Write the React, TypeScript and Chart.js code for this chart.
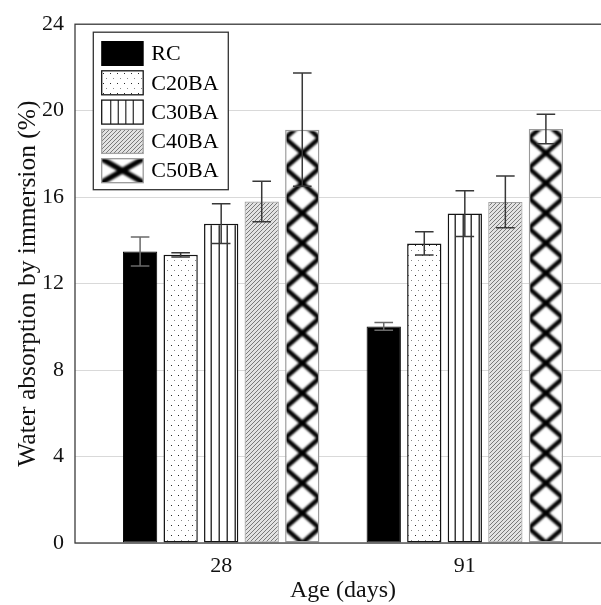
import React, { useEffect, useRef } from "react";
import { Chart, registerables } from "chart.js";

Chart.register(...registerables);

// ---------- data ----------
const ageLabels = ["28", "91"];
const agePositions = [0, 1];
const seriesNames = ["RC", "C20BA", "C30BA", "C40BA", "C50BA"];

const rcValues = [13.48, 10.02];
const c20Values = [13.33, 13.86];
const c30Values = [14.77, 15.24];
const c40Values = [15.8, 15.78];
const c50Values = [19.12, 19.15];

const rcErrors = [0.67, 0.18];
const c20Errors = [0.1, 0.54];
const c30Errors = [0.92, 1.06];
const c40Errors = [0.94, 1.2];
const c50Errors = [2.62, 0.68];

const yMin = 0;
const yMax = 24;
const yStep = 4;

const seriesValues = [rcValues, c20Values, c30Values, c40Values, c50Values];
const seriesErrors = [rcErrors, c20Errors, c30Errors, c40Errors, c50Errors];

// ---------- style ----------
const FONT = "'Liberation Serif', 'Times New Roman', serif";
const fills = ["solid", "dots", "vlines", "hatch", "cross"];
const borderColors = ["#000000", "#141414", "#141414", "#a3a3a3", "#9a9a9a"];
const borderWidths = [1, 1.5, 1.5, 1.2, 1.5];
const CAT_PCT = 0.832;
const BAR_PCT = 0.846;
const CROSS_H = 30;

function makeTile(w: number, h: number, draw: (t: CanvasRenderingContext2D) => void) {
  const c = document.createElement("canvas");
  c.width = w;
  c.height = h;
  const t = c.getContext("2d") as CanvasRenderingContext2D;
  draw(t);
  return c;
}

const tiles: Record<string, HTMLCanvasElement> = {};
function getTile(kind: string): HTMLCanvasElement {
  if (tiles[kind]) return tiles[kind];
  let c: HTMLCanvasElement;
  if (kind === "dots") {
    c = makeTile(7, 10, (t) => {
      t.fillStyle = "#ffffff";
      t.fillRect(0, 0, 7, 10);
      t.fillStyle = "#2a2a2a";
      t.fillRect(1, 2, 1, 1);
      t.fillStyle = "#8a8a8a";
      t.fillRect(4, 7, 1, 1);
    });
  } else if (kind === "vlines") {
    c = makeTile(8, 4, (t) => {
      t.fillStyle = "#ffffff";
      t.fillRect(0, 0, 8, 4);
      t.fillStyle = "#9a9a9a";
      t.fillRect(6, 0, 1, 4);
      t.fillStyle = "#3a3a3a";
      t.fillRect(7, 0, 1, 4);
    });
  } else if (kind === "hatch") {
    c = makeTile(4, 4, (t) => {
      t.fillStyle = "#e3e3e3";
      t.fillRect(0, 0, 4, 4);
      t.fillStyle = "#7a7a7a";
      t.fillRect(3, 0, 1, 1);
      t.fillRect(2, 1, 1, 1);
      t.fillRect(1, 2, 1, 1);
      t.fillRect(0, 3, 1, 1);
    });
  } else {
    const TW = 68;
    const TH = 60;
    c = makeTile(TW, TH, (t) => {
      t.fillStyle = "#ffffff";
      t.fillRect(0, 0, TW, TH);
      t.strokeStyle = "#000000";
      t.lineWidth = 9;
      (t as any).filter = "blur(2px)";
      t.beginPath();
      for (let k = -2; k <= 2; k++) {
        t.moveTo(-TW, k * TH - TH);
        t.lineTo(2 * TW, k * TH + 2 * TH);
        const cc = TH + k * TH;
        t.moveTo(-TW, cc + TH);
        t.lineTo(2 * TW, cc - 2 * TH);
      }
      t.stroke();
    });
  }
  tiles[kind] = c;
  return c;
}

function patternFor(ctx: CanvasRenderingContext2D, kind: string, left: number, top: number, sx = 1, sy = 1) {
  const p = ctx.createPattern(getTile(kind), "repeat") as CanvasPattern;
  p.setTransform(new DOMMatrix([sx, 0, 0, sy, left, top]));
  return p;
}

const patternCache: Record<string, any> = {};
function barBackground(c: any) {
  const ds = c.datasetIndex;
  const kind = fills[ds];
  if (kind === "solid") return "#000000";
  const chart = c.chart;
  const xs = chart.scales ? chart.scales.x : null;
  const area = chart.chartArea;
  if (!xs || !area) return "#ffffff";
  const idx = typeof c.dataIndex === "number" ? c.dataIndex : 0;
  const p0 = xs.getPixelForValue(agePositions[0]);
  const p1 = xs.getPixelForValue(agePositions[1]);
  const gap = Math.min(Math.abs(p1 - p0), xs.width);
  const size = gap * CAT_PCT;
  const chunk = size / seriesNames.length;
  const center = xs.getPixelForValue(agePositions[idx]) - size / 2 + chunk * (ds + 0.5);
  const w = chunk * BAR_PCT;
  const left = center - w / 2;
  const key = `${ds}|${idx}|${left.toFixed(2)}|${w.toFixed(2)}|${area.bottom}`;
  if (patternCache[key]) return patternCache[key];
  const ctx = chart.ctx as CanvasRenderingContext2D;
  let p: any;
  if (kind === "cross") p = patternFor(ctx, kind, left, area.bottom - CROSS_H / 2, w / 68, CROSS_H / 60);
  else p = patternFor(ctx, kind, Math.round(left), area.bottom);
  patternCache[key] = p;
  return p;
}

const framePlugin = {
  id: "frameAndErrors",
  afterDatasetsDraw(chart: any) {
    const ctx = chart.ctx as CanvasRenderingContext2D;
    const a = chart.chartArea;
    const ys = chart.scales.y;
    // error bars
    chart.data.datasets.forEach((_d: any, di: number) => {
      const meta = chart.getDatasetMeta(di);
      meta.data.forEach((el: any, i: number) => {
        const v = seriesValues[di][i];
        const e = seriesErrors[di][i];
        const yt = ys.getPixelForValue(v + e);
        const yb = ys.getPixelForValue(v - e);
        ctx.save();
        ctx.strokeStyle = di === 0 ? "#6a6a6a" : "#383838";
        ctx.lineWidth = 1.5;
        ctx.beginPath();
        ctx.moveTo(el.x, yt);
        ctx.lineTo(el.x, yb);
        ctx.moveTo(el.x - 9.3, yt);
        ctx.lineTo(el.x + 9.3, yt);
        ctx.moveTo(el.x - 9.3, yb);
        ctx.lineTo(el.x + 9.3, yb);
        ctx.stroke();
        ctx.restore();
      });
    });
    // frame
    ctx.save();
    ctx.strokeStyle = "#3c3c3c";
    ctx.lineWidth = 1.3;
    ctx.strokeRect(a.left, a.top, a.right - a.left, a.bottom - a.top);
    ctx.restore();
  },
  afterDraw(chart: any) {
    const ctx = chart.ctx as CanvasRenderingContext2D;
    const a = chart.chartArea;
    const bx = a.left + 18.3;
    const by = a.top + 8;
    const bw = 135;
    const bh = 157.5;
    ctx.save();
    ctx.fillStyle = "#ffffff";
    ctx.fillRect(bx, by, bw, bh);
    ctx.strokeStyle = "#333333";
    ctx.lineWidth = 1.3;
    ctx.strokeRect(bx, by, bw, bh);
    const sw = 41.5;
    const sh = 24;
    const sx = bx + 8.4;
    seriesNames.forEach((name, i) => {
      const sy = by + 9.3 + i * 29.3;
      const kind = fills[i];
      ctx.save();
      ctx.beginPath();
      ctx.rect(sx, sy, sw, sh);
      ctx.clip();
      if (kind === "solid") {
        ctx.fillStyle = "#000000";
        ctx.fillRect(sx, sy, sw, sh);
      } else {
        ctx.fillStyle = "#ffffff";
        ctx.fillRect(sx, sy, sw, sh);
        if (kind === "dots" || kind === "hatch") {
          ctx.fillStyle = patternFor(ctx, kind, Math.round(sx), Math.round(sy));
          ctx.fillRect(sx, sy, sw, sh);
        } else if (kind === "vlines") {
          ctx.strokeStyle = "#3a3a3a";
          ctx.lineWidth = 1.3;
          [9, 16.6, 24.1, 31.6].forEach((o) => {
            ctx.beginPath();
            ctx.moveTo(sx + o, sy);
            ctx.lineTo(sx + o, sy + sh);
            ctx.stroke();
          });
        } else if (kind === "cross") {
          ctx.strokeStyle = "#000000";
          ctx.lineWidth = 5.5;
          (ctx as any).filter = "blur(1.2px)";
          ctx.beginPath();
          ctx.moveTo(sx - 2, sy - 1);
          ctx.lineTo(sx + sw + 2, sy + sh + 1);
          ctx.moveTo(sx + sw + 2, sy - 1);
          ctx.lineTo(sx - 2, sy + sh + 1);
          ctx.stroke();
          (ctx as any).filter = "none";
        }
      }
      ctx.restore();
      ctx.strokeStyle = borderColors[i];
      ctx.lineWidth = i === 0 ? 1 : 1.3;
      ctx.strokeRect(sx, sy, sw, sh);
      ctx.fillStyle = "#000000";
      ctx.font = `22px ${FONT}`;
      ctx.textAlign = "left";
      ctx.textBaseline = "middle";
      ctx.fillText(name, bx + 58, sy + sh / 2 + 1);
    });
    ctx.restore();
  },
};

export default function App() {
  const ref = useRef<HTMLCanvasElement | null>(null);

  useEffect(() => {
    if (!ref.current) return;
    const datasets = seriesNames.map((name, i) => ({
      label: name,
      data: agePositions.map((x, j) => ({ x, y: seriesValues[i][j] })),
      backgroundColor: barBackground,
      borderColor: borderColors[i],
      borderWidth: borderWidths[i],
      borderSkipped: false,
      categoryPercentage: CAT_PCT,
      barPercentage: BAR_PCT,
    }));
    const chart = new Chart(ref.current, {
      type: "bar",
      data: { datasets } as any,
      options: {
        responsive: false,
        animation: false,
        events: [],
        layout: { padding: { top: 16, right: 1, left: 0, bottom: 0 } },
        plugins: { legend: { display: false }, tooltip: { enabled: false } },
        scales: {
          x: {
            type: "linear",
            min: -0.6,
            max: 1.6,
            offset: false,
            grid: { display: false, drawTicks: false },
            border: { display: false },
            afterBuildTicks: (s: any) => {
              s.ticks = agePositions.map((v) => ({ value: v }));
            },
            afterFit: (s: any) => {
              s.height = 62;
            },
            ticks: {
              callback: (v: any) => {
                const k = agePositions.indexOf(Number(v));
                return k >= 0 ? ageLabels[k] : "";
              },
              font: { family: FONT, size: 22 },
              color: "#111111",
              padding: 10,
              maxRotation: 0,
              autoSkip: false,
            },
            title: {
              display: true,
              text: "Age (days)",
              font: { family: FONT, size: 24 },
              color: "#111111",
              padding: { top: 0, bottom: 0 },
            },
          },
          y: {
            min: yMin,
            max: yMax,
            ticks: {
              stepSize: yStep,
              font: { family: FONT, size: 22 },
              color: "#111111",
              padding: 11,
            },
            grid: { color: "#d9d9d9", drawTicks: false, lineWidth: 1 },
            border: { display: false },
            afterFit: (s: any) => {
              s.width = 75;
            },
            title: {
              display: true,
              text: "Water absorption by immersion (%)",
              font: { family: FONT, size: 25.5 },
              color: "#111111",
              padding: { top: 12.7, bottom: 0 },
            },
          },
        },
      } as any,
      plugins: [framePlugin],
    });
    return () => chart.destroy();
  }, []);

  return (
    <div
      style={{
        position: "fixed",
        left: 0,
        top: 0,
        width: 601,
        height: 605,
        overflow: "hidden",
        background: "#ffffff",
      }}
    >
      <canvas ref={ref} width={612} height={605} style={{ width: 612, height: 605, display: "block" }} />
    </div>
  );
}
